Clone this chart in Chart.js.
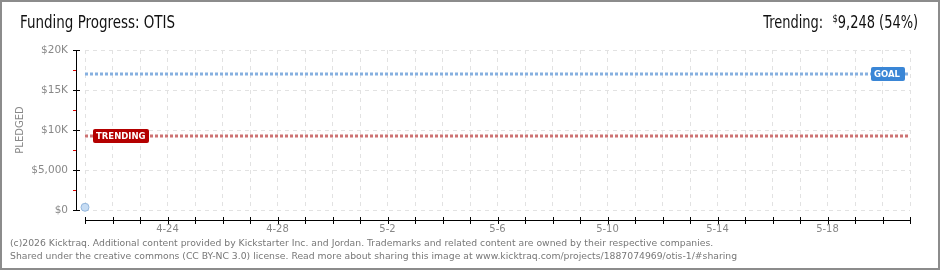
<!DOCTYPE html>
<html>
<head>
<meta charset="utf-8">
<script src="https://cdn.jsdelivr.net/npm/chart.js@4/dist/chart.umd.min.js"></script>
<style>
  body { margin: 0; background: #fff; }
  #wrap { position: relative; width: 940px; height: 270px; overflow: hidden; }
  #frame { position: absolute; left: 0; top: 0; width: 940px; height: 270px; box-sizing: border-box; border: 2px solid #8c8c8c; pointer-events: none; }
  #chart { position: absolute; left: 0; top: 0; }
  .title { position: absolute; left: 20px; top: 12px; font: 17px "Liberation Sans Narrow", "DejaVu Sans Condensed", sans-serif; color: #111; transform: scaleX(0.88); transform-origin: left top; }
  .trend { position: absolute; right: 22px; top: 12px; font: 17px "Liberation Sans Narrow", "DejaVu Sans Condensed", sans-serif; color: #111; transform: scaleX(0.85); transform-origin: right top; white-space: nowrap; }
  .trend sup { font-size: 11px; vertical-align: 6px; margin-left: 6px; }
  .foot { position: absolute; left: 10px; top: 236px; font: 9.5px "DejaVu Sans", sans-serif; color: #777; line-height: 13px; white-space: nowrap; transform: scaleX(0.975); transform-origin: left top; }
</style>
</head>
<body>
<div id="wrap">
  <canvas id="chart" width="940" height="270"></canvas>
  <div class="title">Funding Progress: OTIS</div>
  <div class="trend">Trending: <sup>$</sup>9,248 (54%)</div>
  <div class="foot">(c)2026 Kicktraq. Additional content provided by Kickstarter Inc. and Jordan. Trademarks and related content are owned by their respective companies.<br>Shared under the creative commons (CC BY-NC 3.0) license. Read more about sharing this image at www.kicktraq.com/projects/1887074969/otis-1/#sharing</div>
  <div id="frame"></div>
</div>
<script>
const days = ["4-21", "4-22", "4-23", "4-24", "4-25", "4-26", "4-27", "4-28", "4-29", "4-30",
    "5-1", "5-2", "5-3", "5-4", "5-5", "5-6", "5-7", "5-8", "5-9", "5-10",
    "5-11", "5-12", "5-13", "5-14", "5-15", "5-16", "5-17", "5-18", "5-19", "5-20", "5-21"];
const pledged = [340];
const goalAmount = 17000;
const trendingAmount = 9248;
const yTickValues = [0, 5000, 10000, 15000, 20000];
const yTickLabels = ["$0", "$5,000", "$10K", "$15K", "$20K"];
const xLabelEvery = 4;
const xLabelStart = 3;

// axes drawn a few px away from the plot, like the original
const kicktraqAxes = {
    id: "kicktraqAxes",
    afterDraw(chart) {
        const { ctx, chartArea } = chart;
        const x = chart.scales.x;
        const y = chart.scales.y;
        const axisX = chartArea.left - 9;
        const axisY = chartArea.bottom + 10;
        ctx.save();
        ctx.strokeStyle = "#000";
        ctx.lineWidth = 1;

        // y axis
        ctx.beginPath();
        ctx.moveTo(axisX + 0.5, y.getPixelForValue(20000));
        ctx.lineTo(axisX + 0.5, y.getPixelForValue(0) + 0.5);
        ctx.stroke();
        y.ticks.forEach((t) => {
            const py = Math.round(y.getPixelForValue(t.value)) + 0.5;
            ctx.beginPath();
            ctx.moveTo(axisX - 3, py);
            ctx.lineTo(axisX + 4, py);
            ctx.stroke();
        });
        ctx.strokeStyle = "#e00000";
        for (let i = 0; i < y.ticks.length - 1; i++) {
            const mid = (y.ticks[i].value + y.ticks[i + 1].value) / 2;
            const py = Math.round(y.getPixelForValue(mid)) + 0.5;
            ctx.beginPath();
            ctx.moveTo(axisX - 3, py);
            ctx.lineTo(axisX, py);
            ctx.stroke();
        }

        // x axis
        ctx.strokeStyle = "#000";
        ctx.beginPath();
        ctx.moveTo(x.getPixelForValue(0), axisY + 0.5);
        ctx.lineTo(x.getPixelForValue(days.length - 1) + 1, axisY + 0.5);
        ctx.stroke();
        days.forEach((d, i) => {
            const px = Math.round(x.getPixelForValue(i)) + 0.5;
            ctx.beginPath();
            ctx.moveTo(px, axisY - 3);
            ctx.lineTo(px, axisY + 4);
            ctx.stroke();
        });
        ctx.restore();
    },
    afterDatasetsDraw(chart) {
        const { ctx, chartArea } = chart;
        const y = chart.scales.y;
        const tag = (text, color, left, w, value) => {
            const py = Math.round(y.getPixelForValue(value));
            ctx.fillStyle = color;
            ctx.beginPath();
            ctx.roundRect(left, py - 7, w, 14, 2);
            ctx.fill();
            ctx.fillStyle = "#fff";
            ctx.font = "bold 8.5px 'DejaVu Sans'";
            ctx.textBaseline = "middle";
            ctx.textAlign = "left";
            ctx.fillText(text, left + 3, py + 0.5);
        };
        ctx.save();
        tag("GOAL", "#3a86d6", chartArea.right - 39, 34, goalAmount);
        tag("TRENDING", "#b40000", chartArea.left + 8, 56, trendingAmount);
        ctx.restore();
    },
};

new Chart(document.getElementById("chart"), {
    type: "line",
    data: {
        labels: days,
        datasets: [
            {
                label: "Pledged",
                data: pledged,
                showLine: false,
                pointRadius: 4,
                pointBackgroundColor: "#c6dcf3",
                pointBorderColor: "#93b6dc",
                pointBorderWidth: 1,
                clip: false,
            },
            {
                label: "Goal",
                data: [{ x: days[0], y: goalAmount }, { x: days[days.length - 1], y: goalAmount }],
                borderColor: "#86b0e0",
                borderWidth: 3,
                borderDash: [3, 2],
                pointRadius: 0,
            },
            {
                label: "Trending",
                data: [{ x: days[0], y: trendingAmount }, { x: days[days.length - 1], y: trendingAmount }],
                borderColor: "#cd7373",
                borderWidth: 3,
                borderDash: [3, 2],
                pointRadius: 0,
            },
        ],
    },
    options: {
        responsive: false,
        animation: false,
        layout: {
            padding: { left: 0, right: 30, top: 50, bottom: 0 },
        },
        plugins: {
            legend: { display: false },
            tooltip: { enabled: false },
        },
        scales: {
            x: {
                offset: false,
                afterFit: (scale) => { scale.height = 60; },
                grid: { color: "#e2e2e2", drawTicks: false },
                border: { display: false, dash: [4, 4] },
                ticks: {
                    autoSkip: false,
                    maxRotation: 0,
                    padding: 13,
                    color: "#888",
                    font: { family: "DejaVu Sans", size: 10 },
                    callback: (value, index) =>
                        (index - xLabelStart) % xLabelEvery === 0 && index >= xLabelStart ? days[index] : "",
                },
            },
            y: {
                min: 0,
                max: 20000,
                afterFit: (scale) => { scale.width = 85; },
                afterBuildTicks: (scale) => {
                    scale.ticks = yTickValues.map((v) => ({ value: v }));
                },
                grid: { color: "#e2e2e2", drawTicks: false },
                border: { display: false, dash: [4, 4] },
                ticks: {
                    padding: 17,
                    color: "#888",
                    font: { family: "DejaVu Sans", size: 10.5 },
                    callback: (value) => yTickLabels[yTickValues.indexOf(value)],
                },
                title: {
                    display: true,
                    text: "PLEDGED",
                    color: "#888",
                    font: { family: "DejaVu Sans", size: 10 },
                    padding: { top: 14, bottom: 0 },
                },
            },
        },
    },
    plugins: [kicktraqAxes],
});
</script>
</body>
</html>
